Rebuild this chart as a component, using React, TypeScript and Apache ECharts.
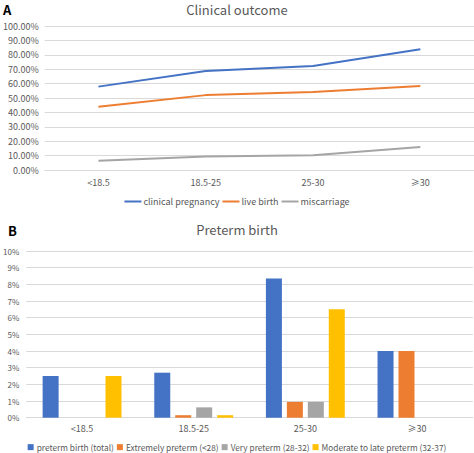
import React, { useEffect, useRef } from "react";
import * as echarts from "echarts";

const categories = ["<18.5", "18.5-25", "25-30", "≥30"];
const clinicalPregnancy = [57.9, 68.7, 72.2, 83.8];
const liveBirth = [44.0, 52.0, 54.2, 58.3];
const miscarriage = [6.4, 9.3, 10.3, 16.0];

const pretermTotal = [2.5, 2.7, 8.35, 4.0];
const extremelyPreterm = [0, 0.15, 0.95, 4.0];
const veryPreterm = [0, 0.62, 0.95, 0];
const moderatePreterm = [2.5, 0.15, 6.5, 0];

const colors = ["#4472C4", "#ED7D31", "#A5A5A5", "#FFC000"];
const FONT = "'Noto Sans CJK SC', 'Noto Sans', sans-serif";
const TXT = "#595959";

export default function App() {
  const ref = useRef<HTMLDivElement>(null);
  useEffect(() => {
    document.body.style.margin = "0";
    const chart = echarts.init(ref.current!, null, { renderer: "svg" });
    chart.setOption({
      animation: false,
      textStyle: { fontFamily: FONT },
      title: [
        { text: "Clinical outcome", left: "center", top: 3, padding: 0, textStyle: { fontSize: 13, fontWeight: "normal", color: TXT, fontFamily: FONT } },
        { text: "A", left: 3, top: 3, padding: 0, textStyle: { fontSize: 13, fontWeight: "bold", color: "#000", fontFamily: FONT } },
        { text: "Preterm birth", left: "center", top: 223, padding: 0, textStyle: { fontSize: 13, fontWeight: "normal", color: TXT, fontFamily: FONT } },
        { text: "B", left: 8, top: 224, padding: 0, textStyle: { fontSize: 13, fontWeight: "bold", color: "#000", fontFamily: FONT } },
      ],
      legend: [
        {
          data: ["clinical pregnancy", "live birth", "miscarriage"],
          top: 197,
          left: "center",
          padding: 0,
          icon: "rect",
          itemWidth: 17,
          itemHeight: 2,
          itemGap: 3,
          textStyle: { fontSize: 9, color: TXT, fontFamily: FONT, padding: [0, 0, 0, -3] },
        },
        {
          data: ["preterm birth (total)", "Extremely preterm (<28)", "Very preterm (28-32)", "Moderate to late preterm (32-37)"],
          top: 443,
          left: "center",
          padding: 0,
          icon: "rect",
          itemWidth: 6,
          itemHeight: 6,
          itemGap: 3,
          textStyle: { fontSize: 8.3, color: TXT, fontFamily: FONT, padding: [0, 0, 0, -2] },
        },
      ],
      grid: [
        { left: 39, right: 0, top: 26, bottom: 283, containLabel: false },
        { left: 19.5, right: 1.2, top: 251, bottom: 35.3, containLabel: false },
      ],
      xAxis: [
        {
          type: "category", gridIndex: 0, data: categories,
          axisLine: { show: true, lineStyle: { color: "#D9D9D9" } }, axisTick: { show: false },
          axisLabel: { fontSize: 9, color: TXT, margin: 8, fontFamily: FONT },
        },
        {
          type: "category", gridIndex: 1, data: categories,
          axisLine: { show: true, lineStyle: { color: "#D9D9D9" } }, axisTick: { show: false },
          axisLabel: { fontSize: 9, color: TXT, margin: 6, fontFamily: FONT },
        },
      ],
      yAxis: [
        {
          type: "value", gridIndex: 0, min: 0, max: 100, interval: 10,
          axisLabel: { fontSize: 9, color: TXT, margin: 6, fontFamily: FONT, formatter: (v: number) => v.toFixed(2) + "%" },
          splitLine: { lineStyle: { color: "#D9D9D9" } },
        },
        {
          type: "value", gridIndex: 1, min: 0, max: 10, interval: 1,
          axisLabel: { fontSize: 8, color: TXT, margin: 7, fontFamily: FONT, formatter: (v: number) => v + "%" },
          splitLine: { lineStyle: { color: "#D9D9D9" } },
        },
      ],
      series: [
        { name: "clinical pregnancy", type: "line", xAxisIndex: 0, yAxisIndex: 0, data: clinicalPregnancy, showSymbol: false, symbol: "none", lineStyle: { width: 2, color: colors[0] }, itemStyle: { color: colors[0] } },
        { name: "live birth", type: "line", xAxisIndex: 0, yAxisIndex: 0, data: liveBirth, showSymbol: false, symbol: "none", lineStyle: { width: 2, color: colors[1] }, itemStyle: { color: colors[1] } },
        { name: "miscarriage", type: "line", xAxisIndex: 0, yAxisIndex: 0, data: miscarriage, showSymbol: false, symbol: "none", lineStyle: { width: 2, color: colors[2] }, itemStyle: { color: colors[2] } },
        { name: "preterm birth (total)", type: "bar", xAxisIndex: 1, yAxisIndex: 1, data: pretermTotal, barWidth: 16, barGap: "31%", itemStyle: { color: colors[0] } },
        { name: "Extremely preterm (<28)", type: "bar", xAxisIndex: 1, yAxisIndex: 1, data: extremelyPreterm, barWidth: 16, barGap: "31%", itemStyle: { color: colors[1] } },
        { name: "Very preterm (28-32)", type: "bar", xAxisIndex: 1, yAxisIndex: 1, data: veryPreterm, barWidth: 16, barGap: "31%", itemStyle: { color: colors[2] } },
        { name: "Moderate to late preterm (32-37)", type: "bar", xAxisIndex: 1, yAxisIndex: 1, data: moderatePreterm, barWidth: 16, barGap: "31%", itemStyle: { color: colors[3] } },
      ],
    });
    return () => chart.dispose();
  }, []);
  return <div ref={ref} style={{ width: 474, height: 453, background: "#fff" }} />;
}
